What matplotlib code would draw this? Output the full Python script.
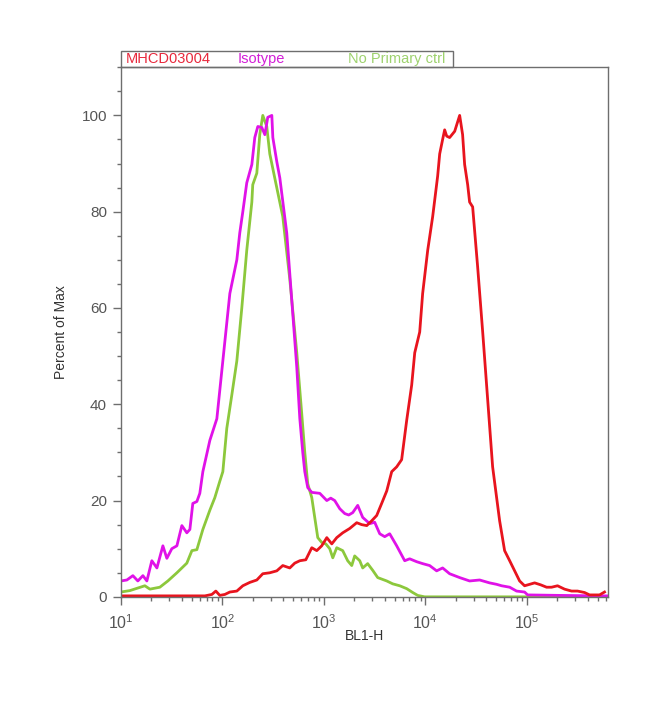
import numpy as np
import matplotlib
matplotlib.use("Agg")
import matplotlib.pyplot as plt
from matplotlib.ticker import MultipleLocator, LogLocator, NullFormatter
from matplotlib.patches import Rectangle

plt.rcParams['font.family'] = ['Liberation Sans', 'DejaVu Sans']
plt.rcParams['mathtext.fontset'] = 'custom'
plt.rcParams['mathtext.rm'] = 'Liberation Sans'

# -----------------------------------------------------------------
# Histogram traces (log10 of BL1-H, percent of max)
# -----------------------------------------------------------------
noprim_log = [1.000, 1.089, 1.236, 1.286, 1.384, 1.463, 1.552, 1.601, 1.650, 1.700,
              1.749, 1.808, 1.877, 1.926, 1.975, 2.005, 2.044, 2.094, 2.143, 2.192,
              2.241, 2.291, 2.300, 2.340, 2.369, 2.399, 2.438, 2.468, 2.517, 2.596,
              2.665, 2.734, 2.783, 2.813, 2.842, 2.882, 2.911, 2.941, 2.980, 3.020,
              3.059, 3.089, 3.128, 3.187, 3.236, 3.276, 3.305, 3.355, 3.384, 3.433,
              3.483, 3.532, 3.621, 3.680, 3.749, 3.818, 3.877, 3.926, 3.995, 5.798]
noprim_pct = [1.0, 1.3, 2.3, 1.6, 2.0, 3.3, 5.0, 6.0, 7.0, 9.6,
              9.8, 14.0, 18.0, 20.6, 24.0, 26.0, 35.0, 42.0, 49.0, 60.0,
              72.0, 82.0, 85.6, 88.0, 96.0, 100.0, 97.7, 92.0, 87.0, 79.0,
              66.0, 50.7, 38.0, 30.0, 23.5, 20.6, 16.5, 12.3, 11.3, 11.0,
              10.0, 8.1, 10.2, 9.6, 7.5, 6.5, 8.5, 7.5, 6.0, 6.9,
              5.5, 4.0, 3.3, 2.7, 2.3, 1.7, 0.9, 0.3, 0.0, 0.0]

iso_log = [1.000, 1.059, 1.118, 1.167, 1.217, 1.256, 1.305, 1.355, 1.414, 1.453,
           1.502, 1.552, 1.601, 1.650, 1.680, 1.709, 1.749, 1.778, 1.808, 1.877,
           1.946, 2.005, 2.074, 2.143, 2.172, 2.202, 2.241, 2.291, 2.320, 2.350,
           2.389, 2.419, 2.448, 2.488, 2.498, 2.537, 2.567, 2.635, 2.734, 2.764,
           2.793, 2.813, 2.842, 2.882, 2.961, 3.030, 3.069, 3.108, 3.158, 3.207,
           3.246, 3.286, 3.335, 3.384, 3.453, 3.502, 3.552, 3.601, 3.650, 3.719,
           3.798, 3.847, 3.916, 3.975, 4.044, 4.113, 4.172, 4.241, 4.340, 4.438,
           4.537, 4.635, 4.704, 4.754, 4.833, 4.901, 4.980, 5.010, 5.325, 5.719, 5.798]
iso_pct = [3.3, 3.5, 4.4, 3.3, 4.4, 3.3, 7.5, 6.0, 10.6, 8.0,
           10.0, 10.6, 14.8, 13.3, 14.0, 19.4, 19.8, 21.5, 26.0, 32.5,
           37.0, 49.0, 63.0, 70.0, 75.6, 80.0, 86.0, 89.8, 95.4, 97.7,
           97.5, 96.0, 99.6, 100.0, 95.4, 90.4, 87.0, 75.6, 47.7, 37.0,
           30.0, 26.0, 22.7, 21.7, 21.5, 20.0, 20.5, 20.0, 18.3, 17.3,
           17.0, 17.5, 19.0, 16.5, 15.2, 15.5, 13.1, 12.5, 13.1, 10.6,
           7.5, 7.9, 7.3, 6.9, 6.5, 5.4, 6.0, 4.8, 4.0, 3.3,
           3.5, 2.9, 2.6, 2.3, 2.0, 1.2, 1.0, 0.4, 0.3, 0.2, 0.2]

mhcd_log = [1.000, 1.286, 1.581, 1.828, 1.897, 1.936, 1.975, 2.025, 2.074, 2.143,
            2.202, 2.271, 2.340, 2.399, 2.468, 2.537, 2.596, 2.665, 2.714, 2.764,
            2.823, 2.882, 2.931, 2.980, 3.030, 3.079, 3.128, 3.187, 3.256, 3.325,
            3.374, 3.424, 3.473, 3.522, 3.571, 3.621, 3.670, 3.719, 3.768, 3.818,
            3.867, 3.897, 3.946, 3.975, 4.025, 4.074, 4.123, 4.143, 4.172, 4.192,
            4.212, 4.241, 4.291, 4.340, 4.369, 4.389, 4.419, 4.438, 4.468, 4.517,
            4.567, 4.616, 4.665, 4.734, 4.783, 4.833, 4.882, 4.931, 4.980, 5.030,
            5.079, 5.138, 5.197, 5.246, 5.305, 5.374, 5.443, 5.502, 5.571, 5.621,
            5.719, 5.768]
mhcd_pct = [0.2, 0.2, 0.2, 0.2, 0.5, 1.2, 0.3, 0.5, 1.0, 1.2,
            2.3, 3.0, 3.5, 4.8, 5.0, 5.4, 6.5, 6.0, 7.0, 7.5,
            7.7, 10.2, 9.6, 10.6, 12.3, 11.0, 12.3, 13.3, 14.2, 15.4,
            15.0, 14.8, 15.8, 16.9, 19.4, 22.0, 26.0, 27.0, 28.5, 36.7,
            44.0, 50.7, 55.0, 63.0, 72.0, 79.0, 87.4, 92.0, 95.0, 97.0,
            95.7, 95.4, 96.7, 100.0, 96.0, 89.8, 85.6, 82.0, 81.0, 68.6,
            55.0, 41.0, 27.0, 15.8, 9.6, 7.5, 5.4, 3.3, 2.3, 2.6,
            2.9, 2.5, 2.0, 2.0, 2.3, 1.6, 1.2, 1.2, 0.9, 0.4,
            0.4, 1.0]

series_names = ["MHCD03004", "Isotype", "No Primary ctrl"]
series_colors = ["#e8141e", "#e012e8", "#8cc83c"]
legend_text_colors = ["#e8283c", "#d21ed7", "#9ed26e"]

# -----------------------------------------------------------------
fig = plt.figure(figsize=(6.5, 7.08), dpi=100)
ax = fig.add_axes([0.186, 0.157, 0.749, 0.748])

ax.plot(10 ** np.array(noprim_log), noprim_pct, color=series_colors[2], lw=2.0)
ax.plot(10 ** np.array(iso_log), iso_pct, color=series_colors[1], lw=2.0)
ax.plot(10 ** np.array(mhcd_log), mhcd_pct, color=series_colors[0], lw=2.0)

ax.set_xscale('log')
ax.set_xlim(10, 10 ** 5.8)
ax.set_ylim(0, 110)

ax.yaxis.set_major_locator(MultipleLocator(20))
ax.yaxis.set_minor_locator(MultipleLocator(5))
ax.xaxis.set_major_locator(LogLocator(base=10, numticks=10))
ax.xaxis.set_minor_locator(LogLocator(base=10, subs=np.arange(2, 10), numticks=20))
ax.xaxis.set_minor_formatter(NullFormatter())

for sp in ax.spines.values():
    sp.set_color('#6e6e6e')
    sp.set_linewidth(1.0)

ax.tick_params(which='major', length=6, width=1, color='#6e6e6e',
               labelcolor='#555555', labelsize=11, pad=4)
ax.tick_params(which='minor', length=3, width=1, color='#6e6e6e')
ax.tick_params(axis='x', which='major', pad=6, labelsize=11.5)

ax.set_xlabel("BL1-H", fontsize=10, color='#333333')
ax.set_ylabel("Percent of Max", fontsize=10, color='#333333')
ax.xaxis.set_label_coords(0.5, -0.06)
ax.yaxis.set_label_coords(-0.108, 0.5)

# header box with coloured series names
box = Rectangle((0.186, 0.905), 0.5115, 0.0235, transform=fig.transFigure,
                fill=False, edgecolor='#6e6e6e', lw=1.0)
fig.add_artist(box)
label_x = [0.193, 0.365, 0.536]
for name, c, lx in zip(series_names, legend_text_colors, label_x):
    fig.text(lx, 0.9165, name, color=c, fontsize=10.5, va='center', ha='left')

fig.savefig("out.png", dpi=100)
